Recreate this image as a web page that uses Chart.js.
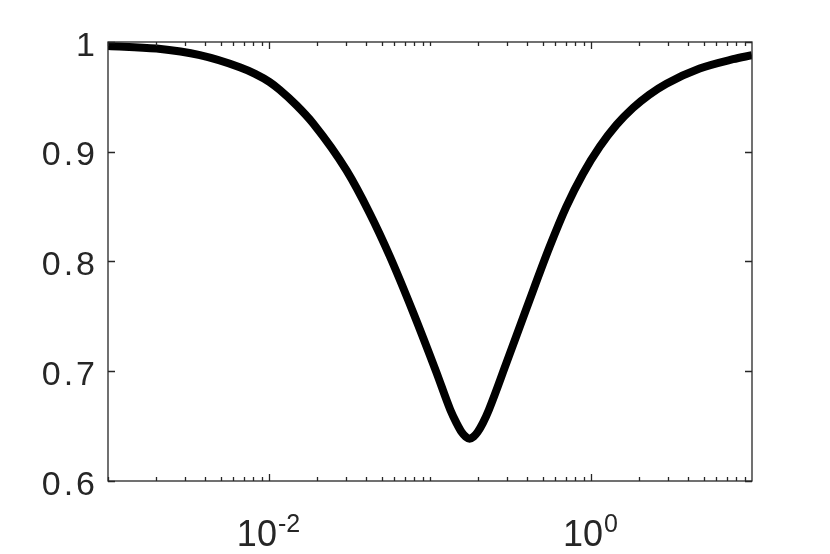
<!DOCTYPE html>
<html>
<head>
<meta charset="utf-8">
<script src="https://cdn.jsdelivr.net/npm/chart.js@4"></script>
<style>
  html, body { margin: 0; padding: 0; background: #fff; }
  canvas { display: block; }
</style>
</head>
<body>
<canvas id="grafico" width="830" height="554"></canvas>
<script>
// --- Dados ---
const valoresX = [0.001, 0.002, 0.00372, 0.00658, 0.0082, 0.0101, 0.01164, 0.01479, 0.01875, 0.0303, 0.0422,
  0.0562, 0.0784, 0.1096, 0.1336, 0.1459, 0.157, 0.1664, 0.1762, 0.1866, 0.1977, 0.2133, 0.2323,
  0.2983, 0.397, 0.554, 0.703, 0.892, 1.132, 1.438, 1.824, 2.3, 2.94, 4.73, 7.62, 10];
const valoresY = [0.9964, 0.994, 0.988, 0.977, 0.971, 0.9635, 0.9565, 0.9425, 0.926, 0.883, 0.844,
  0.805, 0.754, 0.699, 0.665, 0.653, 0.6447, 0.6405, 0.6386, 0.6405, 0.6447, 0.653, 0.665,
  0.7076, 0.757, 0.8136, 0.85, 0.880, 0.9045, 0.9245, 0.940, 0.952, 0.962, 0.9758, 0.9843, 0.988];

// Rótulos dos eixos
const ticksX = [0.01, 1];
const expoentesX = ['-2', '0'];
const ticksY = [0.6, 0.7, 0.8, 0.9, 1];
const rotulosY = ['0.6', '0.7', '0.8', '0.9', '1'];

const corEixo = '#262626';
const fonte = '"Liberation Sans", Arial, Helvetica, sans-serif';

// --- Plugin: caixa estilo MATLAB com ticks para dentro e rótulos ---
const caixaEixos = {
  id: 'caixaEixos',
  afterDatasetsDraw(chart) {
    const ctx = chart.ctx;
    const area = chart.chartArea;
    const x = chart.scales.x;
    const y = chart.scales.y;
    ctx.save();
    ctx.strokeStyle = corEixo;
    ctx.lineWidth = 1.3;
    ctx.strokeRect(area.left, area.top, area.right - area.left, area.bottom - area.top);

    ctx.beginPath();
    // ticks do eixo y (esquerda e direita)
    ticksY.forEach(v => {
      const py = Math.round(y.getPixelForValue(v)) + 0.5;
      ctx.moveTo(area.left, py); ctx.lineTo(area.left + 7, py);
      ctx.moveTo(area.right, py); ctx.lineTo(area.right - 7, py);
    });
    // ticks do eixo x (log): maiores nos rótulos, menores no resto
    for (let d = -3; d < 1; d++) {
      for (let k = 1; k <= 9; k++) {
        const v = k * Math.pow(10, d);
        const px = Math.round(x.getPixelForValue(v)) + 0.5;
        const maior = ticksX.some(t => Math.abs(t - v) < 1e-9);
        const tam = maior ? 7 : 4;
        ctx.moveTo(px, area.bottom); ctx.lineTo(px, area.bottom - tam);
        ctx.moveTo(px, area.top); ctx.lineTo(px, area.top + tam);
      }
    }
    ctx.stroke();

    ctx.fillStyle = corEixo;
    ctx.textBaseline = 'alphabetic';

    // rótulos do eixo y
    ctx.textAlign = 'right';
    ctx.font = '34px ' + fonte;
    ctx.letterSpacing = '3px';
    ticksY.forEach((v, i) => {
      ctx.fillText(rotulosY[i], area.left - 10, y.getPixelForValue(v) + 13.5);
    });
    ctx.letterSpacing = '0px';

    // rótulos 10^n
    ctx.textAlign = 'left';
    ticksX.forEach((v, i) => {
      const px = x.getPixelForValue(v);
      ctx.font = '36px ' + fonte;
      const wBase = ctx.measureText('10').width;
      ctx.font = '25px ' + fonte;
      const wExp = ctx.measureText(expoentesX[i]).width;
      const inicio = px - (wBase + wExp) / 2 - 1;
      ctx.font = '36px ' + fonte;
      ctx.fillText('10', inicio, 546);
      ctx.font = '25px ' + fonte;
      ctx.fillText(expoentesX[i], inicio + wBase + 1, 531.5);
    });
    ctx.restore();
  }
};

// --- Gráfico ---
const grafico = document.getElementById('grafico');
new Chart(grafico, {
  type: 'line',
  data: {
    datasets: [{
      data: valoresX.map((v, i) => ({ x: v, y: valoresY[i] })),
      borderColor: '#000000',
      borderWidth: 8,
      borderCapStyle: 'butt',
      borderJoinStyle: 'round',
      pointRadius: 0,
      cubicInterpolationMode: 'monotone',
      fill: false,
      clip: 0
    }]
  },
  options: {
    responsive: false,
    animation: false,
    events: [],
    layout: { padding: { left: 0, right: 78, top: 42, bottom: 0 } },
    plugins: { legend: { display: false }, tooltip: { enabled: false } },
    scales: {
      x: {
        type: 'logarithmic',
        min: 0.001,
        max: 10,
        ticks: { display: false },
        grid: { display: false },
        border: { display: false },
        afterFit(scale) { scale.height = 73; }
      },
      y: {
        min: 0.6,
        max: 1,
        ticks: { display: false },
        grid: { display: false, drawTicks: false },
        border: { display: false },
        afterFit(scale) { scale.width = 108; }
      }
    }
  },
  plugins: [caixaEixos]
});
</script>
</body>
</html>
